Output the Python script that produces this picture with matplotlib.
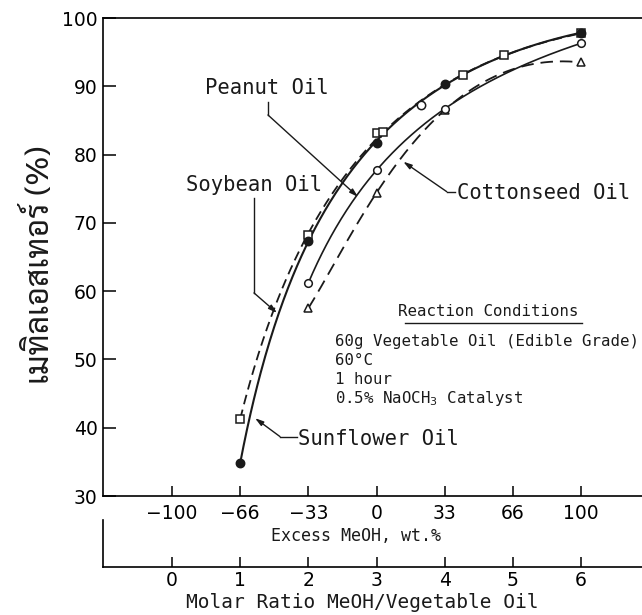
import matplotlib
matplotlib.use("Agg")
import matplotlib.pyplot as plt
import numpy as np
from matplotlib import font_manager as fm
from matplotlib.lines import Line2D

# ---------------- data ----------------
molar_ticks = [0, 1, 2, 3, 4, 5, 6]
molar_labels = ["0", "1", "2", "3", "4", "5", "6"]
excess_labels = ["\u2212100", "\u221266", "\u221233", "0", "33", "66", "100"]
y_ticks = [30, 40, 50, 60, 70, 80, 90, 100]

sunflower_x = [1, 2, 3, 4, 6]
sunflower_y = [34.8, 67.4, 81.7, 90.4, 97.8]

soybean_x = [1, 2, 3, 3.1, 3.65, 4.27, 4.87, 6]
soybean_y = [41.3, 68.2, 83.1, 83.3, 87.3, 91.6, 94.6, 97.8]

peanut_x = [2, 3, 4, 6]
peanut_y = [61.2, 77.7, 86.7, 96.3]

cotton_x = [2, 3, 4, 6]
cotton_y = [57.5, 74.4, 86.5, 93.5]

conditions_title = "Reaction Conditions"
conditions = ["60g Vegetable Oil (Edible Grade)", "60\u00b0C", "1 hour",
              "0.5% NaOCH$_3$ Catalyst"]
ylabel = "เมทิลเอสเทอร์ (%)"

# ---------------- find a Thai font ----------------
thai_fonts = []
try:
    from fontTools.ttLib import TTFont
    for f in fm.fontManager.ttflist:
        try:
            if f.fname.lower().endswith((".ttf", ".otf")):
                t = TTFont(f.fname, lazy=True)
                cm = t.getBestCmap()
                if cm and 0x0E40 in cm:
                    thai_fonts.append(f.name)
        except Exception:
            pass
except Exception:
    pass
thai_fonts = sorted(set(thai_fonts))
thai_pick = None
for pref in ["Sarabun", "Noto Sans Thai Looped", "IBM Plex Sans Thai Looped",
             "Niramit", "Noto Sans Thai", "IBM Plex Sans Thai", "Anuphan"]:
    if pref in thai_fonts:
        thai_pick = pref
        break
if thai_pick is None and thai_fonts:
    thai_pick = thai_fonts[0]


def smooth_curve(xs, ys, n=300):
    """Smooth drawing curve through the measured points (cubic in log x)."""
    lx = np.log(np.asarray(xs, float))
    c = np.polyfit(lx, np.asarray(ys, float), 3)
    xn = np.linspace(xs[0], xs[-1], n)
    return xn, np.polyval(c, np.log(xn))


plt.rcParams["lines.scale_dashes"] = False
W, H = 642, 615
fig = plt.figure(figsize=(W / 100, H / 100), dpi=100)

x0px, x1px = 172.0, 581.0       # molar 0 and 6
ppu = (x1px - x0px) / 6.0
xl = (-(x0px - 103) / ppu, (W - x0px) / ppu)

ax = fig.add_axes([103 / W, 1 - 496 / H, 1 - 103 / W, 478 / H])
ax.set_xlim(*xl)
ax.set_ylim(30, 100)
ax.spines["right"].set_visible(False)
for s in ("left", "top", "bottom"):
    ax.spines[s].set_linewidth(1.2)
ax.set_yticks(y_ticks)
ax.set_yticklabels([str(v) for v in y_ticks])
ax.set_xticks(molar_ticks)
ax.set_xticklabels(excess_labels)
ax.tick_params(axis="y", direction="in", length=9, width=1.1, pad=4, labelsize=13.5)
ax.tick_params(axis="x", direction="in", length=7, width=1.1, pad=6, labelsize=13.5)

col = "#1a1a1a"
ms_kw = dict(color=col, markeredgewidth=1.1, ls="none")

for xs, ys, kw in [(peanut_x, peanut_y, dict(lw=1.2)),
                   (cotton_x, cotton_y, dict(lw=1.3, dashes=(9, 5))),
                   (soybean_x, soybean_y, dict(lw=1.3, dashes=(7, 4))),
                   (sunflower_x, sunflower_y, dict(lw=1.5))]:
    xn, yn = smooth_curve(xs, ys)
    ax.plot(xn, yn, color=col, **kw)

sq = [i for i, v in enumerate(soybean_x) if v != 3.65]
ci = [i for i, v in enumerate(soybean_x) if v == 3.65]
ax.plot([soybean_x[i] for i in sq], [soybean_y[i] for i in sq], "s", ms=6, mfc="white", **ms_kw)
ax.plot([soybean_x[i] for i in ci], [soybean_y[i] for i in ci], "o", ms=6, mfc="white", **ms_kw)
ax.plot(cotton_x, cotton_y, "^", ms=6, mfc="white", **ms_kw)
ax.plot(peanut_x, peanut_y, "o", ms=5.5, mfc="white", **ms_kw)
ax.plot(sunflower_x, sunflower_y, "o", ms=6, mfc=col, **ms_kw)

# labels with pointers
mono = "DejaVu Sans Mono"
lab_fs = 14.8
arrow = dict(arrowstyle="-|>,head_length=0.5,head_width=0.15", color=col, lw=1.0,
             shrinkA=0, shrinkB=0)

def pointer(pts, text, tx, ty):
    xs = [p[0] for p in pts]; ys = [p[1] for p in pts]
    ax.plot(xs[:-1], ys[:-1], color=col, lw=1.0)
    ax.annotate("", xy=pts[-1], xytext=pts[-2], arrowprops=arrow)
    ax.text(tx, ty, text, family=mono, fontsize=lab_fs, ha="left", va="center", color=col)

pointer([(1.408, 87.7), (1.408, 85.8), (2.729, 73.8)], "Peanut Oil", 0.48, 89.75)
pointer([(1.203, 73.65), (1.203, 59.74), (1.54, 56.81)], "Soybean Oil", 0.205, 75.55)
pointer([(4.15, 74.57), (4.03, 74.57), (3.393, 78.96)], "Cottonseed Oil", 4.181, 74.38)
pointer([(1.83, 38.7), (1.584, 38.7), (1.218, 41.4)], "Sunflower Oil", 1.85, 38.36)

# secondary axis: molar ratio
ax2 = fig.add_axes([103 / W, 1 - 567 / H, 1 - 103 / W, 47 / H])
ax2.patch.set_alpha(0)
ax2.set_xlim(*xl)
ax2.set_ylim(0, 1)
for s in ("right", "top"):
    ax2.spines[s].set_visible(False)
for s in ("left", "bottom"):
    ax2.spines[s].set_linewidth(1.2)
ax2.set_yticks([])
ax2.set_xticks(molar_ticks)
ax2.set_xticklabels(molar_labels)
ax2.tick_params(axis="x", direction="in", length=7, width=1.1, pad=3, labelsize=13.5)

fig.text(356 / W, 1 - 536 / H, "Excess MeOH, wt.%", family=mono, fontsize=12,
         ha="center", va="center", color=col)
fig.text(362 / W, 1 - 603 / H, "Molar Ratio MeOH/Vegetable Oil", family=mono, fontsize=14,
         ha="center", va="center", color=col)

# reaction conditions
cfs = 11.3
fig.text(488 / W, 1 - 311.7 / H, conditions_title, family=mono, fontsize=cfs,
         ha="center", va="center", color=col)
fig.add_artist(Line2D([405 / W, 582 / W], [1 - 323 / H, 1 - 323 / H], color=col, lw=1.0))
for i, s in enumerate(conditions):
    fig.text(335 / W, 1 - (341.7 + 19 * i) / H, s, family=mono, fontsize=cfs,
             ha="left", va="center", color=col)

fams = ([thai_pick] if thai_pick else []) + ["DejaVu Sans"]
fig.text(40 / W, 1 - 265 / H, ylabel, rotation=90, family=fams, fontsize=23,
         ha="center", va="center", color=col)

fig.savefig("out.png", dpi=100)
